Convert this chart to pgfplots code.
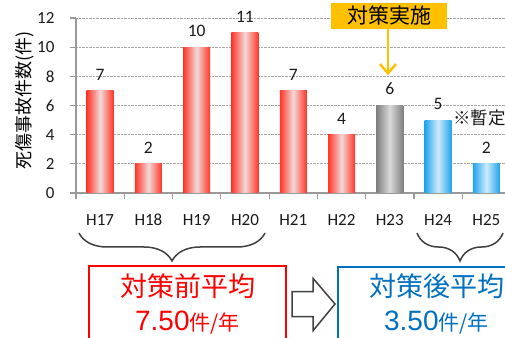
\documentclass[border=0pt]{standalone}
\usepackage{pgfplots}
\pgfplotsset{compat=1.18}
\usepackage{fontspec}
\setmainfont{Carlito}
\newfontfamily\jp{Noto Sans CJK JP}
\newfontfamily\ar{Liberation Sans}
\usetikzlibrary{arrows.meta,decorations.pathreplacing}
\definecolor{redE}{HTML}{FF3525}
\definecolor{redC}{HTML}{F2D9D9}
\definecolor{grayE}{HTML}{7F7F7F}
\definecolor{grayC}{HTML}{DADADA}
\definecolor{blueE}{HTML}{1FA3EC}
\definecolor{blueC}{HTML}{CDEBFC}
\definecolor{orng}{HTML}{FFC000}
\definecolor{boxblue}{HTML}{0070C0}
\definecolor{txt}{HTML}{1A1A1A}
\pgfplotsset{
  redbar/.style={ybar, bar shift=0pt, draw=none, left color=redE, right color=redE, middle color=redC},
  graybar/.style={ybar, bar shift=0pt, draw=none, left color=grayE, right color=grayE, middle color=grayC},
  bluebar/.style={ybar, bar shift=0pt, draw=none, left color=blueE, right color=blueE, middle color=blueC},
}
\begin{document}
\begin{tikzpicture}[x=1pt,y=1pt]
\useasboundingbox (0,0) rectangle (505,337);
\clip (0,0) rectangle (505,337);
\begin{axis}[
  at={(76pt,144pt)}, anchor=south west,
  scale only axis, width=434.5pt, height=175pt,
  xmin=-0.5, xmax=8.5, ymin=0, ymax=12,
  /pgf/number format/assume math mode=true,
  axis x line*=bottom, axis y line*=left,
  axis line style={draw=black!40, line width=1.2pt},
  xtick={-0.5,0.5,...,8.5},
  x tick label as interval,
  xticklabels={H17,H18,H19,H20,H21,H22,H23,H24,H25},
  ytick={0,2,...,12},
  ymajorgrids,
  grid style={densely dotted, black!35, line width=0.8pt},
  tick align=outside,
  major tick length=6pt,
  tick style={black!40, line width=1.2pt},
  ticklabel style={font=\fontsize{17}{20}\selectfont, text=txt},
  xticklabel style={text height=11pt, text depth=0pt, yshift=-12pt},
  yticklabel style={anchor=east, xshift=-12pt},
  every axis y label/.style={at={(axis description cs:-0.1174,0.531)}, anchor=center, rotate=90},
  ylabel={\jp\fontsize{18}{20}\selectfont 死傷事故件数(件)},
  clip=false,
  bar width=27pt,
  nodes near coords,
  every node near coord/.append style={font=\fontsize{17.5}{20}\selectfont, text=txt, yshift=7pt},
]
\addplot[redbar] coordinates {(0,7)};
\addplot[redbar] coordinates {(1,2)};
\addplot[redbar] coordinates {(2,10)};
\addplot[redbar] coordinates {(3,11)};
\addplot[redbar] coordinates {(4,7)};
\addplot[redbar] coordinates {(5,4)};
\addplot[graybar] coordinates {(6,6)};
\addplot[bluebar] coordinates {(7,5)};
\addplot[bluebar] coordinates {(8,2)};
\end{axis}
% annotation: measure implemented
\fill[orng] (331,308) rectangle (447,334);
\node[font=\jp\fontsize{21}{24}\selectfont, text=black] at (389,321) {対策実施};
\draw[orng, line width=2.5pt, -{Straight Barb[length=9pt,width=16pt]}] (388,308) -- (388,262);
\node[anchor=west, font=\jp\fontsize{17.5}{20}\selectfont, inner sep=0, text=txt] at (453,219) {※暫定値};
% braces
\draw[black!75, line width=1.5pt, decorate, decoration={brace, amplitude=28pt, mirror}] (79,104) -- (265,104);
\draw[black!75, line width=1.5pt, decorate, decoration={brace, amplitude=28pt, mirror}] (417,104) -- (503,104);
% before box
\draw[red, line width=1.8pt] (89,-10) rectangle (286,71);
\node[text=red, font=\jp\fontsize{27}{30}\selectfont] at (187.5,50.3) {対策前平均};
\node[text=red, anchor=base, inner sep=0] at (187.5,7) {{\ar\fontsize{28}{30}\selectfont 7.50}{\jp\fontsize{21}{24}\selectfont 件/年}};
% block arrow
\draw[black!75, fill=white, line width=1.5pt, line join=miter] (292,45.3) -- (313,45.3) -- (313,58.7) -- (335,33) -- (313,6.3) -- (313,20.3) -- (292,20.3) -- cycle;
% after box
\draw[boxblue, line width=1.8pt] (338,-10) rectangle (535,70.3);
\node[text=boxblue, font=\jp\fontsize{27}{30}\selectfont] at (436.5,50.3) {対策後平均};
\node[text=boxblue, anchor=base, inner sep=0] at (436.5,7) {{\ar\fontsize{28}{30}\selectfont 3.50}{\jp\fontsize{21}{24}\selectfont 件/年}};
\end{tikzpicture}
\end{document}
